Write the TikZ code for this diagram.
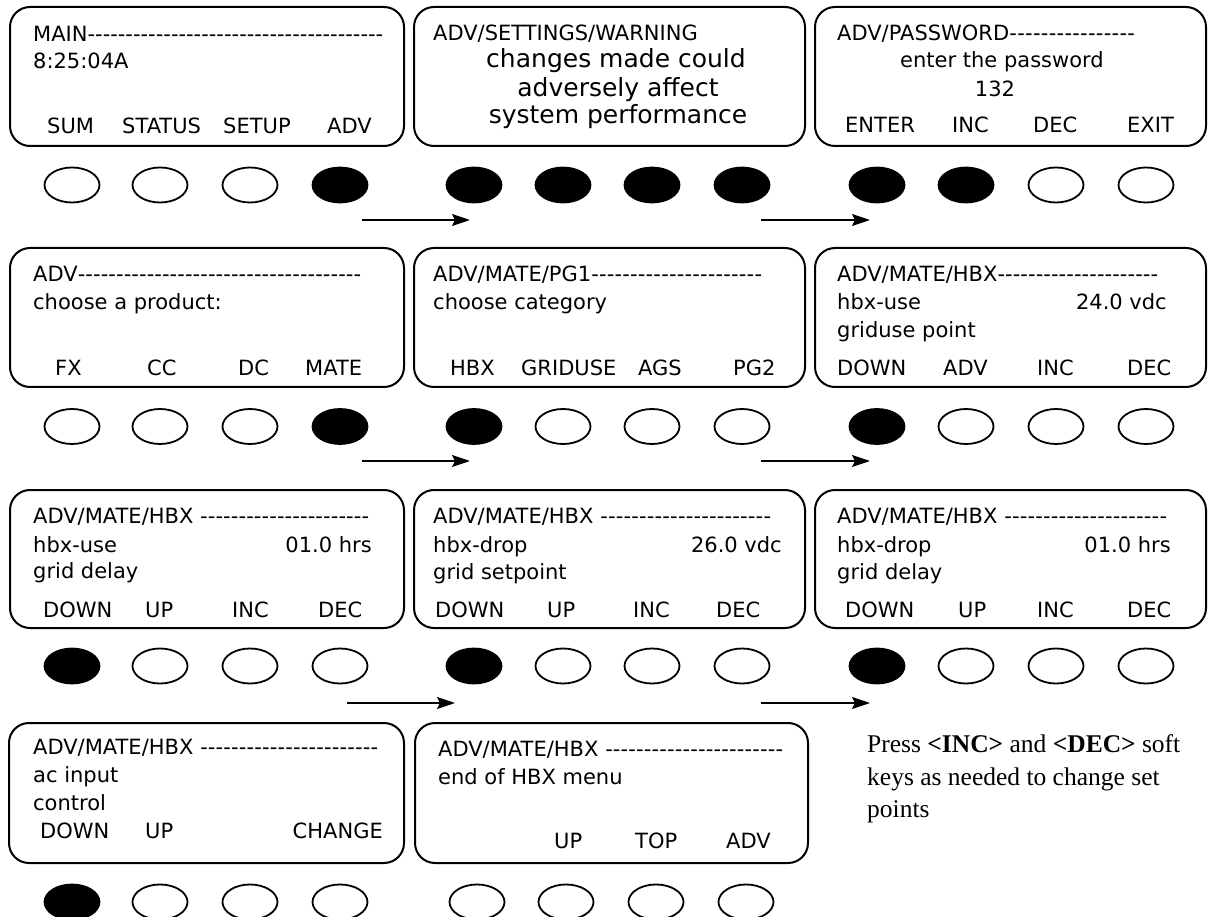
\documentclass[tikz,border=0pt]{standalone}
\usepackage{fontspec}
\setmainfont{DejaVu Sans}
\newfontfamily\serifnote{Liberation Serif}
\usetikzlibrary{shapes.geometric,arrows.meta}
\newcommand\hdr[2]{\makebox[#2pt][l]{#1\xleaders\hbox{-}\hfill}}
\tikzset{
 screen/.style={draw, line width=2pt, rounded corners=20pt, inner sep=0pt},
 btn/.style={ellipse, draw, line width=1.8pt, minimum width=55pt, minimum height=35pt, inner sep=0pt},
 btnon/.style={btn, fill=black},
 btnoff/.style={btn, fill=white},
 lcd/.style={anchor=base west, inner sep=0pt, font=\fontsize{21}{25}\selectfont},
 lcdr/.style={lcd, anchor=base east},
 warn/.style={anchor=base, inner sep=0pt, font=\fontsize{25}{30}\selectfont},
 note/.style={anchor=base west, inner sep=0pt, font=\serifnote\fontsize{25.5}{32}\selectfont},
 flow/.style={line width=1.6pt, -{Stealth[length=18pt,width=12pt,inset=3pt]}},
}
\begin{document}
\begin{tikzpicture}[x=1pt,y=-1pt]
\useasboundingbox (0,0) rectangle (1208,917);
% ---------- screens ----------
\node[screen, minimum width=394pt, minimum height=139pt] (r1p1) at (207,76.5) {};
\node[screen, minimum width=391pt, minimum height=139pt] (r1p2) at (609.5,76.5) {};
\node[screen, minimum width=391pt, minimum height=139pt] (r1p3) at (1010.5,76.5) {};
\node[screen, minimum width=394pt, minimum height=139pt] (r2p1) at (207,317.5) {};
\node[screen, minimum width=391pt, minimum height=139pt] (r2p2) at (609.5,317.5) {};
\node[screen, minimum width=391pt, minimum height=139pt] (r2p3) at (1010.5,317.5) {};
\node[screen, minimum width=394pt, minimum height=138pt] (r3p1) at (207,559) {};
\node[screen, minimum width=391pt, minimum height=138pt] (r3p2) at (609.5,559) {};
\node[screen, minimum width=391pt, minimum height=138pt] (r3p3) at (1010.5,559) {};
\node[screen, minimum width=395pt, minimum height=140pt] (r4p1) at (206.5,793) {};
\node[screen, minimum width=393pt, minimum height=140pt] (r4p2) at (611.5,793) {};
% ---------- buttons ----------
\foreach \x/\s [count=\i] in {72/btnoff,160/btnoff,250/btnoff,340/btnon} \node[\s] (r1p1b\i) at (\x,185) {};
\foreach \x/\s [count=\i] in {474/btnon,563/btnon,652/btnon,742/btnon} \node[\s] (r1p2b\i) at (\x,185) {};
\foreach \x/\s [count=\i] in {877/btnon,966/btnon,1056/btnoff,1146/btnoff} \node[\s] (r1p3b\i) at (\x,185) {};
\foreach \x/\s [count=\i] in {72/btnoff,160/btnoff,250/btnoff,340/btnon} \node[\s] (r2p1b\i) at (\x,426.5) {};
\foreach \x/\s [count=\i] in {474/btnon,563/btnoff,652/btnoff,742/btnoff} \node[\s] (r2p2b\i) at (\x,426.5) {};
\foreach \x/\s [count=\i] in {877/btnon,966/btnoff,1056/btnoff,1146/btnoff} \node[\s] (r2p3b\i) at (\x,426.5) {};
\foreach \x/\s [count=\i] in {72/btnon,160/btnoff,250/btnoff,340/btnoff} \node[\s] (r3p1b\i) at (\x,666) {};
\foreach \x/\s [count=\i] in {474/btnon,563/btnoff,652/btnoff,742/btnoff} \node[\s] (r3p2b\i) at (\x,666) {};
\foreach \x/\s [count=\i] in {877/btnon,966/btnoff,1056/btnoff,1146/btnoff} \node[\s] (r3p3b\i) at (\x,666) {};
\foreach \x/\s [count=\i] in {72/btnon,160/btnoff,250/btnoff,340/btnoff} \node[\s] (r4p1b\i) at (\x,902) {};
\foreach \x/\s [count=\i] in {477/btnoff,566/btnoff,656/btnoff,746/btnoff} \node[\s] (r4p2b\i) at (\x,902) {};
% ---------- arrows ----------
\coordinate (a1s) at (362,220); \coordinate (a1e) at (470,220);
\coordinate (a2s) at (761,220); \coordinate (a2e) at (870,220);
\coordinate (a3s) at (362,461); \coordinate (a3e) at (470,461);
\coordinate (a4s) at (761,461); \coordinate (a4e) at (870,461);
\coordinate (a5s) at (347,703); \coordinate (a5e) at (455,703);
\coordinate (a6s) at (761,703); \coordinate (a6e) at (870,703);
\draw[flow] (a1s) -- (a1e);
\draw[flow] (a2s) -- (a2e);
\draw[flow] (a3s) -- (a3e);
\draw[flow] (a4s) -- (a4e);
\draw[flow] (a5s) -- (a5e);
\draw[flow] (a6s) -- (a6e);
% ---------- row 1 texts ----------
\node[lcd] (t11a) at (33,42) {\hdr{MAIN}{350}};
\node[lcd] (t11b) at (33,69) {8:25:04A};
\node[lcd] (t11c) at (47,134) {SUM};
\node[lcd] (t11d) at (122,134) {STATUS};
\node[lcd] (t11e) at (223,134) {SETUP};
\node[lcd] (t11f) at (327,134) {ADV};
\node[lcd] (t12a) at (433,41) {ADV/SETTINGS/WARNING};
\node[warn] (t12b) at (616,68) {changes made could};
\node[warn] (t12c) at (618,97) {adversely affect};
\node[warn] (t12d) at (618,124) {system performance};
\node[lcd] (t13a) at (837,41) {\hdr{ADV/PASSWORD}{298}};
\node[lcd, anchor=base] (t13b) at (1002,68) {enter the password};
\node[lcd, anchor=base] (t13c) at (995,97) {132};
\node[lcd] (t13d) at (845,133) {ENTER};
\node[lcd] (t13e) at (952,133) {INC};
\node[lcd] (t13f) at (1033,133) {DEC};
\node[lcd] (t13g) at (1127,133) {EXIT};
% ---------- row 2 texts ----------
\node[lcd] (t21a) at (33,282) {\hdr{ADV}{328}};
\node[lcd] (t21b) at (33,310) {choose a product:};
\node[lcd] (t21c) at (55,375) {FX};
\node[lcd] (t21d) at (147,375) {CC};
\node[lcd] (t21e) at (238,375) {DC};
\node[lcd] (t21f) at (305,375) {MATE};
\node[lcd] (t22a) at (433,282) {\hdr{ADV/MATE/PG1}{329}};
\node[lcd] (t22b) at (433,310) {choose category};
\node[lcd] (t22c) at (450,375) {HBX};
\node[lcd] (t22d) at (521,375) {GRIDUSE};
\node[lcd] (t22e) at (638,375) {AGS};
\node[lcd] (t22f) at (733,375) {PG2};
\node[lcd] (t23a) at (837,282) {\hdr{ADV/MATE/HBX}{321}};
\node[lcd] (t23b) at (837,310) {hbx-use};
\node[lcdr] (t23c) at (1167,310) {24.0 vdc};
\node[lcd] (t23d) at (837,338) {griduse point};
\node[lcd] (t23e) at (837,375) {DOWN};
\node[lcd] (t23f) at (943,375) {ADV};
\node[lcd] (t23g) at (1037,375) {INC};
\node[lcd] (t23h) at (1127,375) {DEC};
% ---------- row 3 texts ----------
\node[lcd] (t31a) at (33,523) {\hdr{ADV/MATE/HBX }{336}};
\node[lcd] (t31b) at (33,552) {hbx-use};
\node[lcdr] (t31c) at (372,552) {01.0 hrs};
\node[lcd] (t31d) at (33,578) {grid delay};
\node[lcd] (t31e) at (43,617) {DOWN};
\node[lcd] (t31f) at (145,617) {UP};
\node[lcd] (t31g) at (232,617) {INC};
\node[lcd] (t31h) at (318,617) {DEC};
\node[lcd] (t32a) at (433,523) {\hdr{ADV/MATE/HBX }{338}};
\node[lcd] (t32b) at (433,552) {hbx-drop};
\node[lcdr] (t32c) at (782,552) {26.0 vdc};
\node[lcd] (t32d) at (433,579) {grid setpoint};
\node[lcd] (t32e) at (435,617) {DOWN};
\node[lcd] (t32f) at (547,617) {UP};
\node[lcd] (t32g) at (633,617) {INC};
\node[lcd] (t32h) at (716,617) {DEC};
\node[lcd] (t33a) at (837,523) {\hdr{ADV/MATE/HBX }{330}};
\node[lcd] (t33b) at (837,552) {hbx-drop};
\node[lcdr] (t33c) at (1171,552) {01.0 hrs};
\node[lcd] (t33d) at (837,579) {grid delay};
\node[lcd] (t33e) at (845,617) {DOWN};
\node[lcd] (t33f) at (958,617) {UP};
\node[lcd] (t33g) at (1037,617) {INC};
\node[lcd] (t33h) at (1127,617) {DEC};
% ---------- row 4 texts ----------
\node[lcd] (t41a) at (33,754) {\hdr{ADV/MATE/HBX }{345}};
\node[lcd] (t41b) at (33,782) {ac input};
\node[lcd] (t41c) at (33,810) {control};
\node[lcd] (t41d) at (40,838) {DOWN};
\node[lcd] (t41e) at (145,838) {UP};
\node[lcdr] (t41f) at (383,838) {CHANGE};
\node[lcd] (t42a) at (438,756) {\hdr{ADV/MATE/HBX }{345}};
\node[lcd] (t42b) at (438,784) {end of HBX menu};
\node[lcd] (t42c) at (554,848) {UP};
\node[lcd] (t42d) at (635,848) {TOP};
\node[lcd] (t42e) at (726,848) {ADV};
% ---------- note ----------
\node[note] (n1) at (867,752) {Press \textbf{<INC>} and \textbf{<DEC>} soft};
\node[note] (n2) at (867,785) {keys as needed to change set};
\node[note] (n3) at (867,817) {points};
\end{tikzpicture}
\end{document}
